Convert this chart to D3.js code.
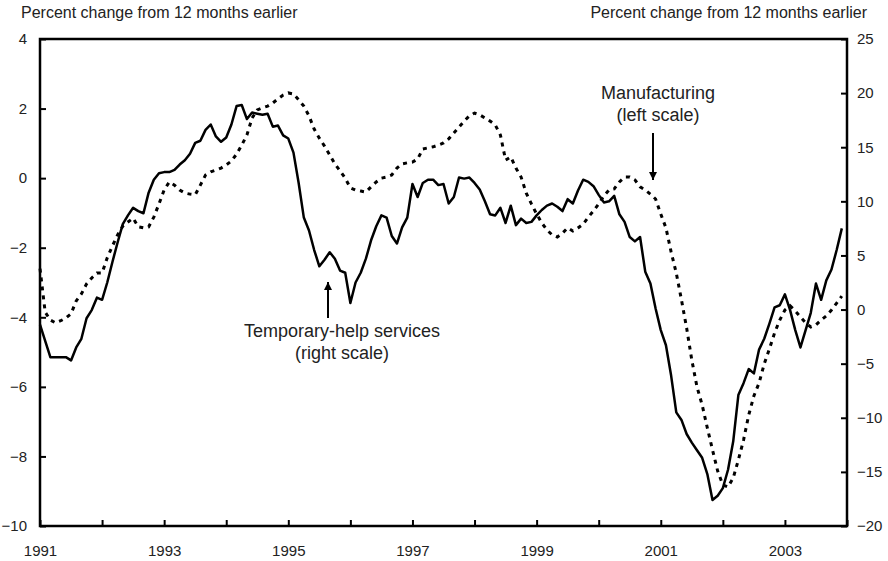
<!DOCTYPE html>
<html>
<head>
<meta charset="utf-8">
<script src="https://cdn.jsdelivr.net/npm/d3@7"></script>
<style>
  body { margin: 0; background: #fff; }
  svg { display: block; font-family: "Liberation Sans", Arial, sans-serif; }
  .axis path { display: none; }
  .axis line { stroke: #000; stroke-width: 2; }
  .axis text { font-size: 15px; fill: #222; }
</style>
</head>
<body>
<div id="chart"></div>
<script>
// monthly data, Jan 1991 - Dec 2003
var startYear = 1991;

// Temporary-help services, right scale
var tempHelp = [
  -1.4, -2.9, -4.4, -4.4, -4.4, -4.4, -4.7, -3.5, -2.7, -0.8, -0.05, 1.1,
  0.9, 2.5, 4.4, 6.2, 7.9, 8.7, 9.4, 9.1, 8.9, 10.8, 12.0, 12.6,
  12.7, 12.7, 12.9, 13.4, 13.8, 14.4, 15.4, 15.6, 16.6, 17.1, 16.0, 15.5,
  15.9, 17.1, 18.8, 18.9, 17.6, 18.2, 18.1, 18.0, 18.1, 16.9, 17.0, 16.1,
  15.8, 14.5, 11.7, 8.5, 7.3, 5.5, 4.0, 4.6, 5.3, 4.7, 3.6, 3.4,
  0.6, 2.5, 3.4, 4.7, 6.4, 7.7, 8.7, 8.5, 6.8, 6.1, 7.6, 8.5,
  11.6, 10.4, 11.7, 12.0, 12.0, 11.5, 11.6, 9.8, 10.4, 12.2, 12.1, 12.2,
  11.7, 11.1, 10.0, 8.8, 8.7, 9.4, 8.0, 9.6, 7.8, 8.4, 8.0, 8.1,
  8.7, 9.2, 9.6, 9.8, 9.5, 9.1, 10.2, 9.8, 11.0, 12.0, 11.8, 11.4,
  10.6, 9.9, 10.0, 10.5, 8.8, 8.1, 6.7, 6.3, 6.7, 3.5, 2.4, 0.1,
  -1.9, -3.3, -6.1, -9.5, -10.2, -11.5, -12.3, -13.0, -13.7, -15.2, -17.6, -17.2,
  -16.5, -14.8, -12.2, -7.9, -6.8, -5.5, -5.9, -3.7, -2.7, -1.3, 0.2, 0.4,
  1.4, -0.05, -1.9, -3.5, -1.9, -0.3, 2.4, 0.9, 2.7, 3.7, 5.5, 7.5
];

// Manufacturing, left scale
var manufacturing = [
  -2.6, -3.85, -4.08, -4.16, -4.1, -4.02, -3.9, -3.53, -3.33, -3.04, -2.87, -2.73,
  -2.73, -2.29, -1.95, -1.63, -1.38, -1.26, -1.15, -1.4, -1.43, -1.4, -1.12, -0.74,
  -0.34, -0.11, -0.2, -0.34, -0.43, -0.46, -0.48, -0.2, 0.09, 0.18, 0.23, 0.29,
  0.38, 0.49, 0.69, 0.95, 1.24, 1.73, 1.96, 2.02, 2.07, 2.16, 2.28, 2.39,
  2.45, 2.42, 2.25, 2.07, 1.79, 1.41, 1.15, 0.92, 0.67, 0.41, 0.21, 0.0,
  -0.28, -0.34, -0.37, -0.4, -0.25, -0.11, 0.0, 0.03, 0.09, 0.29, 0.41, 0.44,
  0.46, 0.55, 0.84, 0.87, 0.9, 0.95, 1.01, 1.13, 1.3, 1.47, 1.64, 1.79,
  1.87, 1.82, 1.73, 1.64, 1.53, 1.24, 0.52, 0.61, 0.29, 0.03, -0.43, -0.74,
  -1.03, -1.29, -1.49, -1.63, -1.69, -1.58, -1.43, -1.52, -1.43, -1.32, -1.12, -0.94,
  -0.74, -0.51, -0.34, -0.31, -0.11, 0.03, 0.03, -0.05, -0.25, -0.34, -0.46, -0.6,
  -1.03, -1.43, -2.12, -2.73, -3.5, -4.31, -5.23, -6.0, -6.52, -7.18, -7.81, -8.42,
  -8.82, -8.88, -8.62, -8.1, -7.53, -6.81, -6.26, -5.89, -5.34, -4.91, -4.45, -4.08,
  -3.79, -3.67, -3.82, -3.99, -4.16, -4.28, -4.22, -4.08, -3.96, -3.79, -3.59, -3.39
];

var leftTicks = [-10, -8, -6, -4, -2, 0, 2, 4];
var rightTicks = [-20, -15, -10, -5, 0, 5, 10, 15, 20, 25];
var yearTicks = d3.range(1991, 2005);
var yearLabels = [1991, 1993, 1995, 1997, 1999, 2001, 2003];

var width = 888, height = 561;
var margin = {top: 39, right: 41, bottom: 35, left: 40};
var w = width - margin.left - margin.right;
var h = height - margin.top - margin.bottom;

var svg = d3.select("#chart").append("svg")
    .attr("width", width)
    .attr("height", height);

var g = svg.append("g")
    .attr("transform", "translate(" + margin.left + "," + margin.top + ")");

var x = d3.scaleLinear().domain([1991, 2004]).range([0, w]);
var yL = d3.scaleLinear().domain([-10, 4]).range([h, 0]);
var yR = d3.scaleLinear().domain([-20, 25]).range([h, 0]);

function t(i) { return startYear + i / 12; }

// axes
g.append("g")
    .attr("class", "axis")
    .attr("transform", "translate(0," + h + ")")
    .call(d3.axisBottom(x)
        .tickValues(yearTicks)
        .tickSize(-6)
        .tickPadding(19)
        .tickFormat(d => yearLabels.indexOf(d) >= 0 ? d : ""));

g.append("g")
    .attr("class", "axis")
    .call(d3.axisLeft(yL)
        .tickValues(leftTicks)
        .tickSize(-6)
        .tickPadding(13));

g.append("g")
    .attr("class", "axis")
    .attr("transform", "translate(" + w + ",0)")
    .call(d3.axisRight(yR)
        .tickValues(rightTicks)
        .tickSize(-6)
        .tickPadding(10));

// frame
g.append("rect")
    .attr("x", 0)
    .attr("y", 0)
    .attr("width", w)
    .attr("height", h)
    .attr("fill", "none")
    .attr("stroke", "#000")
    .attr("stroke-width", 2.5);

// lines
var lineL = d3.line().x((d, i) => x(t(i))).y(d => yL(d));
var lineR = d3.line().x((d, i) => x(t(i))).y(d => yR(d));

g.append("path")
    .datum(manufacturing)
    .attr("fill", "none")
    .attr("stroke", "#000")
    .attr("stroke-width", 3)
    .attr("stroke-dasharray", "4,5")
    .attr("d", lineL);

g.append("path")
    .datum(tempHelp)
    .attr("fill", "none")
    .attr("stroke", "#000")
    .attr("stroke-width", 2.5)
    .attr("stroke-linejoin", "round")
    .attr("d", lineR);

// axis titles
svg.append("text")
    .attr("x", 21)
    .attr("y", 18)
    .style("font-size", "16px")
    .style("fill", "#222")
    .text("Percent change from 12 months earlier");

svg.append("text")
    .attr("x", 867)
    .attr("y", 18)
    .attr("text-anchor", "end")
    .style("font-size", "16px")
    .style("fill", "#222")
    .text("Percent change from 12 months earlier");

// annotations
svg.append("defs").append("marker")
    .attr("id", "head")
    .attr("viewBox", "0 0 10 10")
    .attr("refX", 10)
    .attr("refY", 5)
    .attr("markerWidth", 4)
    .attr("markerHeight", 4)
    .attr("orient", "auto")
    .append("path")
    .attr("d", "M0,0L10,5L0,10Z")
    .attr("fill", "#000");

var notes = svg.append("g")
    .style("font-size", "18px")
    .style("fill", "#222")
    .attr("text-anchor", "middle");

notes.append("text").attr("x", 658).attr("y", 99).text("Manufacturing");
notes.append("text").attr("x", 658).attr("y", 121).text("(left scale)");
notes.append("text").attr("x", 342).attr("y", 337).text("Temporary-help services");
notes.append("text").attr("x", 342).attr("y", 359).text("(right scale)");

svg.append("line")
    .attr("x1", 653).attr("y1", 133)
    .attr("x2", 653).attr("y2", 180)
    .attr("stroke", "#000").attr("stroke-width", 2)
    .attr("marker-end", "url(#head)");

svg.append("line")
    .attr("x1", 328).attr("y1", 318)
    .attr("x2", 328).attr("y2", 282)
    .attr("stroke", "#000").attr("stroke-width", 2)
    .attr("marker-end", "url(#head)");
</script>
</body>
</html>
